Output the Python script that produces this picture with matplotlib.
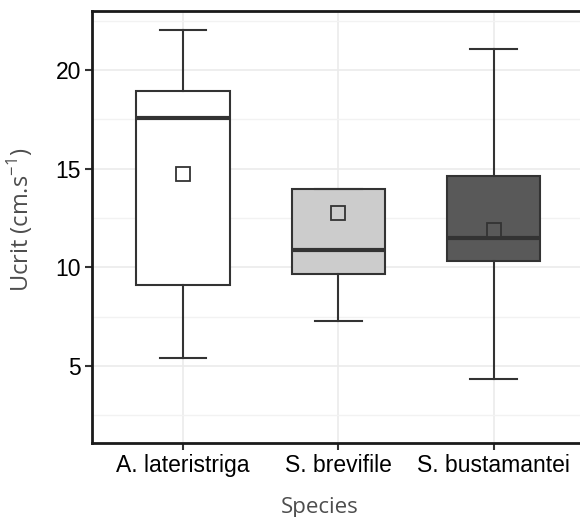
import matplotlib

matplotlib.use("Agg")
import matplotlib.pyplot as plt
from matplotlib.ticker import MultipleLocator

# five-number summaries, plus means
species = ["A. lateristriga", "S. brevifile", "S. bustamantei"]
whislo = [5.4, 7.3, 4.35]
q1 = [9.1, 9.65, 10.35]
med = [17.6, 10.9, 11.5]
q3 = [18.95, 14.0, 14.65]
whishi = [22.05, 14.0, 21.05]
means = [14.75, 12.75, 11.9]
fills = ["#ffffff", "#cccccc", "#595959"]

stats = [
    {"whislo": lo, "q1": a, "med": m, "q3": b, "whishi": hi, "mean": mu, "fliers": []}
    for lo, a, m, b, hi, mu in zip(whislo, q1, med, q3, whishi, means)
]

fig = plt.figure(figsize=(5.8, 5.17), dpi=100)
ax = fig.add_axes([92 / 580, 1 - 443 / 517, (587 - 92) / 580, (443 - 11) / 517])

edge = "#333333"
bp = ax.bxp(
    stats, positions=[1, 2, 3], widths=0.6, patch_artist=True,
    showmeans=True, showfliers=False,
    boxprops=dict(edgecolor=edge, linewidth=1.5),
    whiskerprops=dict(color=edge, linewidth=1.5),
    capprops=dict(color=edge, linewidth=1.5),
    medianprops=dict(color=edge, linewidth=3),
    meanprops=dict(marker="s", markersize=10, markerfacecolor="none",
                   markeredgecolor=edge, markeredgewidth=1.3),
    capwidths=0.3,
)
for patch, c in zip(bp["boxes"], fills):
    patch.set_facecolor(c)
for m, c in zip(bp["means"], fills):
    m.set_markerfacecolor(c)

ax.set_xlim(0.415, 3.6)
ax.set_ylim(1.1, 23.0)
ax.yaxis.set_major_locator(MultipleLocator(5))
ax.yaxis.set_minor_locator(MultipleLocator(2.5))
ax.set_xticks([1, 2, 3])
ax.set_xticklabels(species)

ax.set_axisbelow(True)
ax.grid(which="major", color="#ebebeb", linewidth=1.2)
ax.grid(which="minor", axis="y", color="#f2f2f2", linewidth=1.0)
ax.tick_params(which="minor", length=0)
ax.tick_params(which="major", length=5, width=1.5, color="#333333",
               labelsize=16.5, labelcolor="black", pad=3)
for lab in ax.get_xticklabels() + ax.get_yticklabels():
    lab.set_family("Liberation Sans")

for s in ax.spines.values():
    s.set_linewidth(2)
    s.set_color("#1a1a1a")

ax.set_ylabel("Ucrit (cm.s$^{\\mathregular{-1}}$)", fontsize=17, color="#4d4d4d",
              family="Open Sans")
ax.yaxis.set_label_coords(-0.115, 0.516)
ax.set_xlabel("Species", fontsize=16, color="#4d4d4d", family="Open Sans")
ax.xaxis.set_label_coords(0.459, -0.125)

fig.savefig("out.png", dpi=100)
